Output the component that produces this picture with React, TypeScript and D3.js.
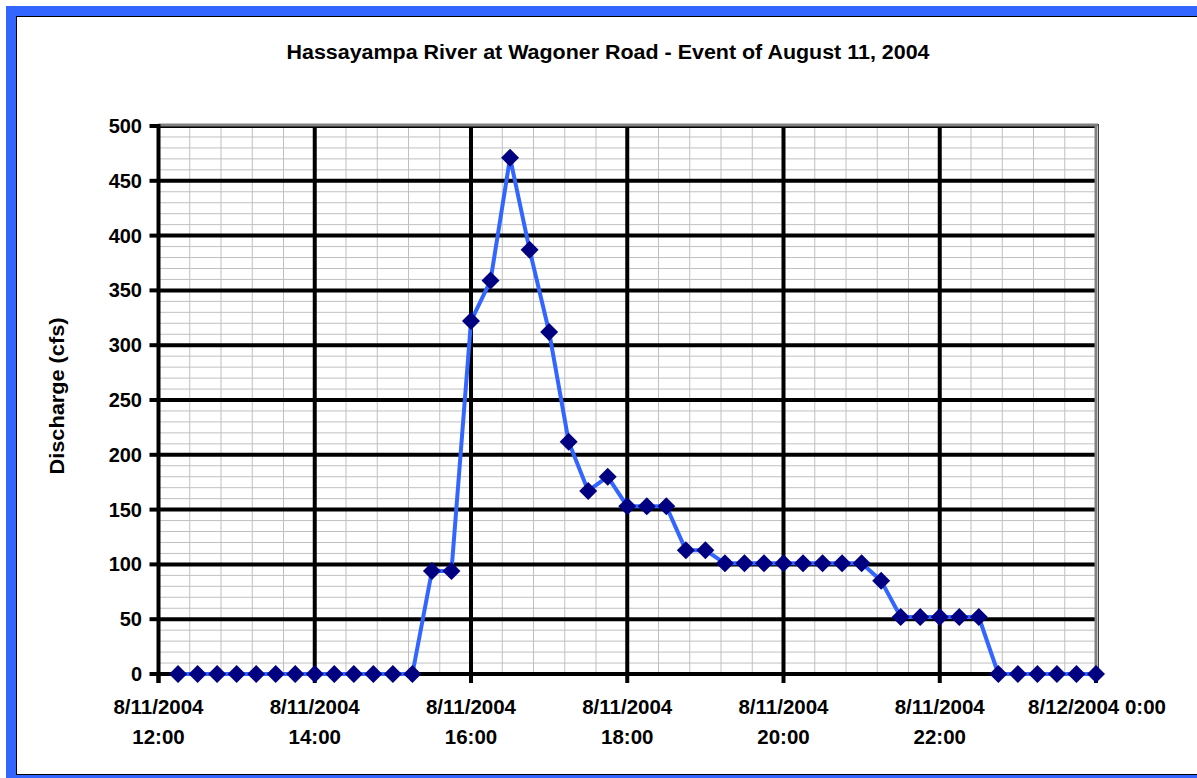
import React from "react";
import * as d3 from "d3";

const title = "Hassayampa River at Wagoner Road - Event of August 11, 2004";
const yAxisTitle = "Discharge (cfs)";

const times: string[] = [
  "2004-08-11T12:15", "2004-08-11T12:30", "2004-08-11T12:45", "2004-08-11T13:00",
  "2004-08-11T13:15", "2004-08-11T13:30", "2004-08-11T13:45", "2004-08-11T14:00",
  "2004-08-11T14:15", "2004-08-11T14:30", "2004-08-11T14:45", "2004-08-11T15:00",
  "2004-08-11T15:15", "2004-08-11T15:30", "2004-08-11T15:45", "2004-08-11T16:00",
  "2004-08-11T16:15", "2004-08-11T16:30", "2004-08-11T16:45", "2004-08-11T17:00",
  "2004-08-11T17:15", "2004-08-11T17:30", "2004-08-11T17:45", "2004-08-11T18:00",
  "2004-08-11T18:15", "2004-08-11T18:30", "2004-08-11T18:45", "2004-08-11T19:00",
  "2004-08-11T19:15", "2004-08-11T19:30", "2004-08-11T19:45", "2004-08-11T20:00",
  "2004-08-11T20:15", "2004-08-11T20:30", "2004-08-11T20:45", "2004-08-11T21:00",
  "2004-08-11T21:15", "2004-08-11T21:30", "2004-08-11T21:45", "2004-08-11T22:00",
  "2004-08-11T22:15", "2004-08-11T22:30", "2004-08-11T22:45", "2004-08-11T23:00",
  "2004-08-11T23:15", "2004-08-11T23:30", "2004-08-11T23:45", "2004-08-12T00:00",
];

const discharge: number[] = [
  0, 0, 0, 0, 0, 0, 0, 0, 0, 0, 0, 0, 0,
  94, 94, 322, 359, 471, 387, 312, 212, 167, 180, 153, 153, 153,
  113, 113, 101, 101, 101, 101, 101, 101, 101, 101, 85,
  52, 52, 52, 52, 52,
  0, 0, 0, 0, 0, 0,
];

const yTicks: number[] = [0, 50, 100, 150, 200, 250, 300, 350, 400, 450, 500];
const xTickTimes: string[] = [
  "2004-08-11T12:00", "2004-08-11T14:00", "2004-08-11T16:00", "2004-08-11T18:00",
  "2004-08-11T20:00", "2004-08-11T22:00", "2004-08-12T00:00",
];
const xTickLabels: string[][] = [
  ["8/11/2004", "12:00"], ["8/11/2004", "14:00"], ["8/11/2004", "16:00"],
  ["8/11/2004", "18:00"], ["8/11/2004", "20:00"], ["8/11/2004", "22:00"],
  ["8/12/2004 0:00"],
];

const W = 1197, H = 778;
const left = 158.5, right = 1096, top = 126, bottom = 674;
const font = "Liberation Sans, Arial, sans-serif";

export default function App() {
  const parse = (s: string) => new Date(s + ":00");
  const x = d3.scaleTime().domain([parse("2004-08-11T12:00"), parse("2004-08-12T00:00")]).range([left, right]);
  const y = d3.scaleLinear().domain([0, 500]).range([bottom, top]);

  const minorX = d3.range(0, 12 * 60 + 1, 24).map((m) => new Date(parse("2004-08-11T12:00").getTime() + m * 60000));
  const minorY = d3.range(0, 501, 10);

  const pts = times.map((t, i) => [x(parse(t)), y(discharge[i])] as [number, number]);
  const line = d3.line<[number, number]>()(pts) || "";
  const dm = 9;

  return (
    <svg width={W} height={H} style={{ position: "absolute", left: 0, top: 0 }} fontFamily={font}>
      <rect x={0} y={0} width={W} height={H} fill="#fff" />
      {/* outer blue frame */}
      <rect x={6} y={6} width={W} height={H} fill="#3366FF" />
      <rect x={16} y={16} width={W} height={759} fill="#000" />
      <rect x={17} y={17} width={W} height={757} fill="#fff" />

      <text x={608} y={59} textAnchor="middle" fontSize={19.5} fontWeight="bold" textLength={643} lengthAdjust="spacingAndGlyphs">{title}</text>

      {/* minor grid */}
      {minorY.map((v) => (
        <line key={"my" + v} x1={left} x2={right} y1={y(v)} y2={y(v)} stroke="#c0c0c0" strokeWidth={1} />
      ))}
      {minorX.map((d, i) => (
        <line key={"mx" + i} x1={x(d)} x2={x(d)} y1={top} y2={bottom} stroke="#c0c0c0" strokeWidth={1} />
      ))}
      {/* major grid */}
      {yTicks.map((v) => (
        <line key={"gy" + v} x1={left} x2={right} y1={y(v)} y2={y(v)} stroke="#000" strokeWidth={4} />
      ))}
      {xTickTimes.slice(1, -1).map((t) => (
        <line key={"gx" + t} x1={x(parse(t))} x2={x(parse(t))} y1={top} y2={bottom} stroke="#000" strokeWidth={4} />
      ))}
      {/* plot frame top/right */}
      <line x1={left} x2={right + 2} y1={top - 1} y2={top - 1} stroke="#808080" strokeWidth={3} />
      <line x1={right} x2={right} y1={top - 1} y2={bottom} stroke="#808080" strokeWidth={3} />
      <line x1={right + 2.5} x2={right + 2.5} y1={top - 2} y2={bottom} stroke="#404040" strokeWidth={1} />
      {/* axes */}
      <line x1={left} x2={left} y1={top - 2} y2={bottom + 9} stroke="#000" strokeWidth={4} />
      <line x1={left} x2={right} y1={bottom} y2={bottom} stroke="#000" strokeWidth={4} />
      {yTicks.map((v) => (
        <line key={"ty" + v} x1={left - 9} x2={left} y1={y(v)} y2={y(v)} stroke="#000" strokeWidth={4} />
      ))}
      {xTickTimes.map((t) => (
        <line key={"tx" + t} x1={x(parse(t))} x2={x(parse(t))} y1={bottom} y2={bottom + 9} stroke="#000" strokeWidth={4} />
      ))}
      {yTicks.map((v) => (
        <text key={"ly" + v} x={142} y={y(v) + 7} textAnchor="end" fontSize={20} fontWeight="bold">{v}</text>
      ))}
      {xTickTimes.map((t, i) => (
        <text key={"lx" + t} textAnchor="middle" fontSize={20.5} fontWeight="bold">
          {xTickLabels[i].map((s, j) => (
            <tspan key={j} x={x(parse(t)) + (i === 6 ? 1 : 0)} y={714 + j * 30}>{s}</tspan>
          ))}
        </text>
      ))}
      <text transform={`translate(64,396) rotate(-90)`} textAnchor="middle" fontSize={20} fontWeight="bold" textLength={157} lengthAdjust="spacingAndGlyphs">{yAxisTitle}</text>

      {/* series */}
      <path d={line} fill="none" stroke="#3366FF" strokeWidth={4} strokeLinejoin="round" />
      {pts.map(([px, py], i) => (
        <path key={"d" + i} d={`M${px},${py - dm}L${px + dm},${py}L${px},${py + dm}L${px - dm},${py}Z`} fill="#000080" />
      ))}
    </svg>
  );
}
